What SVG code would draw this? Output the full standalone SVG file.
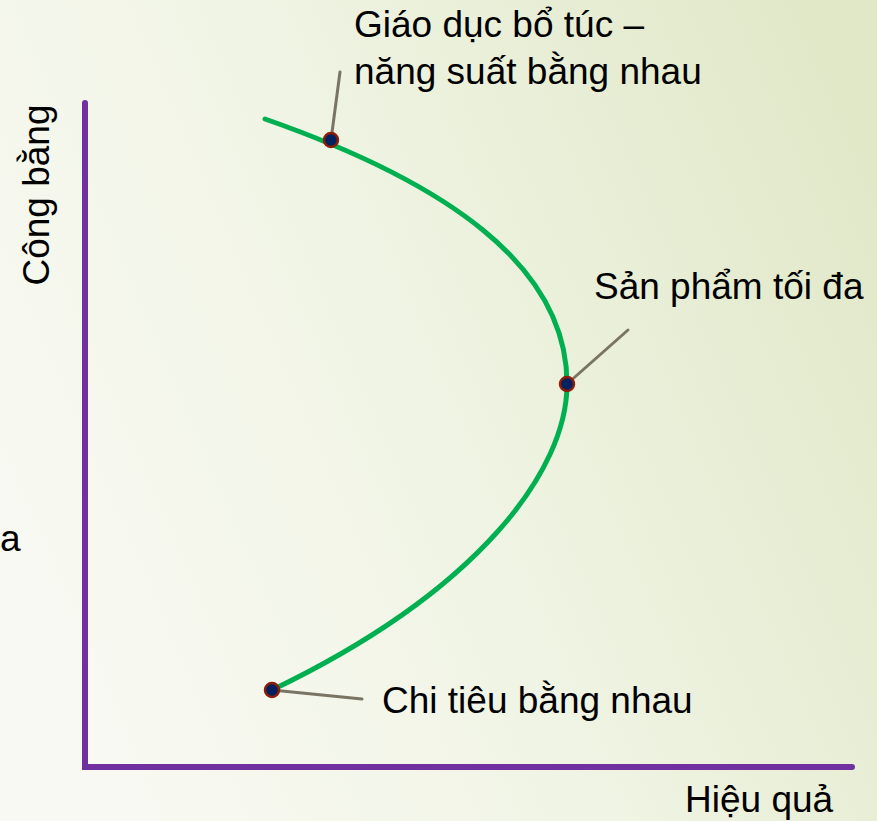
<svg xmlns="http://www.w3.org/2000/svg" width="877" height="821" viewBox="0 0 877 821">
<defs>
<linearGradient id="bg" x1="0" y1="0.6" x2="1" y2="0.2">
<stop offset="0" stop-color="#f8f9f2"/>
<stop offset="0.45" stop-color="#f0f4e4"/>
<stop offset="1" stop-color="#e1e8c8"/>
</linearGradient>
<style>
text{font-family:"Liberation Sans",Arial,sans-serif;font-size:37px;fill:#000}
.axis{stroke:#7030a0;stroke-width:6;stroke-linecap:round;fill:none}
.lead{stroke:#7a7464;stroke-width:3;stroke-linecap:round;fill:none}
.dot{fill:#002060;stroke:#8b1e0a;stroke-width:2.5}
.curve{stroke:#00b050;stroke-width:5;fill:none;stroke-linecap:round}
</style>
</defs>
<rect width="877" height="821" fill="url(#bg)"/>
<text x="0" y="551">a</text>
<g id="axes">
<path class="axis" d="M85,103 V767 H852"/>
<text transform="translate(49,195) rotate(-90)" text-anchor="middle">Công bằng</text>
<text x="685" y="812">Hiệu quả</text>
</g>
<g id="curve">
<path class="curve" d="M265,119 C445,182 567,265 567,384 C567,470 480,590 272,690"/>
</g>
<g id="connectors">
<line class="lead" x1="331" y1="140" x2="340" y2="72"/>
<line class="lead" x1="567" y1="384" x2="628" y2="330"/>
<line class="lead" x1="272" y1="690" x2="362" y2="699"/>
</g>
<g id="p1">
<circle class="dot" cx="331" cy="140" r="7"/>
<text x="354" y="37">Giáo dục bổ túc –</text>
<text x="354" y="84">năng suất bằng nhau</text>
</g>
<g id="p2">
<circle class="dot" cx="567" cy="384" r="7"/>
<text x="594" y="299">Sản phẩm tối đa</text>
</g>
<g id="p3">
<circle class="dot" cx="272" cy="690" r="7"/>
<text x="382" y="713">Chi tiêu bằng nhau</text>
</g>
</svg>
